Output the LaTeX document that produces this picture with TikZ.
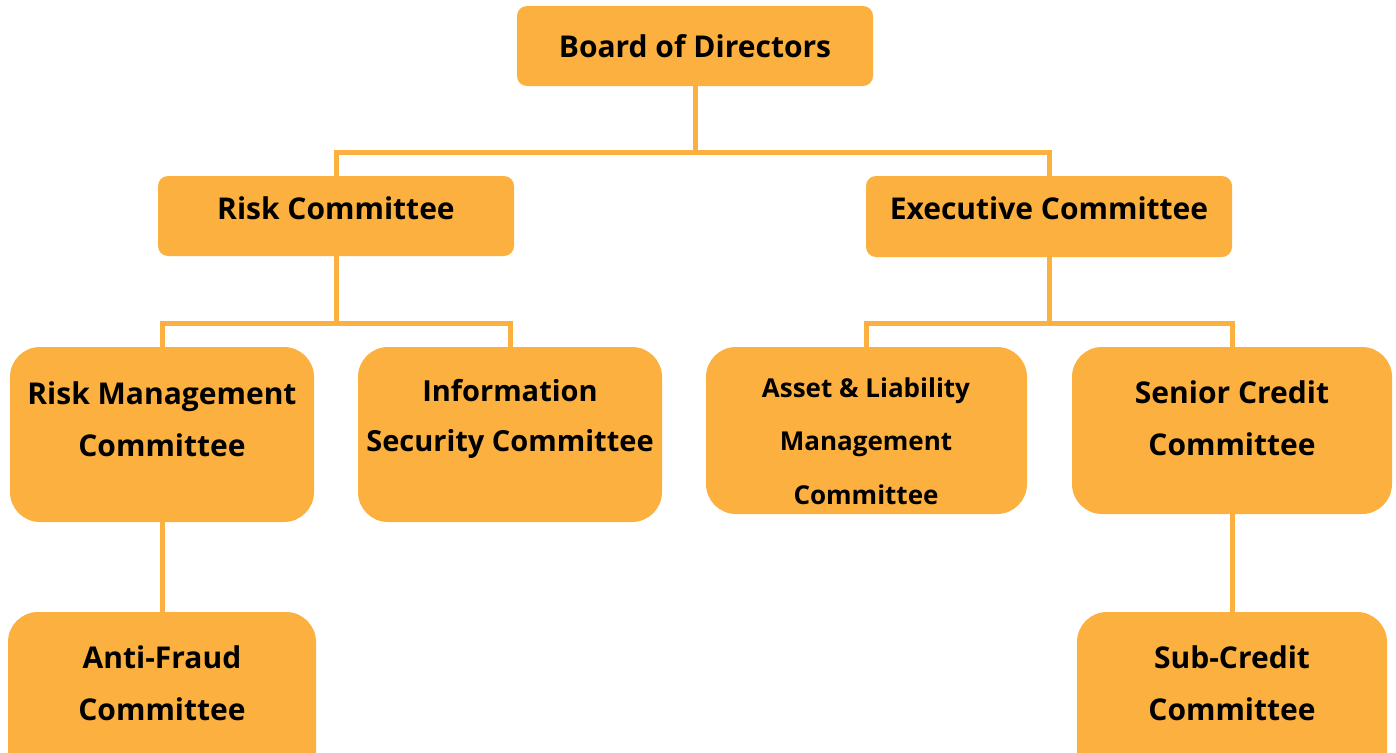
\documentclass[tikz,border=0pt]{standalone}
\usepackage{fontspec}
\setmainfont{Open Sans}
\definecolor{org}{HTML}{FBB040}
\begin{document}
\begin{tikzpicture}[x=1pt,y=-1pt,
  box/.style={fill=org, draw=none, rounded corners=#1, inner sep=0pt},
  box/.default=10pt,
  lbl/.style={align=center, inner sep=0pt, font=\fontsize{30}{52}\selectfont\bfseries},
  lblmid/.style={align=center, inner sep=0pt, font=\fontsize{29}{50}\selectfont\bfseries},
  lblsmall/.style={align=center, inner sep=0pt, font=\fontsize{26}{53.5}\selectfont\bfseries},
  conn/.style={draw=org, line width=5pt}]
\clip (0,0) rectangle (1396,752);
\fill[white] (0,0) rectangle (1396,752);
% boxes
\node[box, minimum width=356pt, minimum height=80pt] (bod) at (695,46) {};
\node[box, minimum width=356pt, minimum height=80pt] (rc) at (336,216) {};
\node[box, minimum width=366pt, minimum height=81pt] (ec) at (1049,216.5) {};
\node[box=30pt, minimum width=304pt, minimum height=175pt] (rm) at (162,434.5) {};
\node[box=30pt, minimum width=304pt, minimum height=175pt] (is) at (510,434.5) {};
\node[box=30pt, minimum width=321pt, minimum height=167pt] (al) at (866.5,430.5) {};
\node[box=30pt, minimum width=320pt, minimum height=167pt] (sc) at (1232,430.5) {};
\node[box=30pt, minimum width=308pt, minimum height=180pt] (af) at (162,702) {};
\node[box=30pt, minimum width=310pt, minimum height=180pt] (sub) at (1232,702) {};
% connectors
\draw[conn] (bod.south) -- ++(0,66) -| (rc.north);
\draw[conn] (bod.south) -- ++(0,66) -| (ec.north);
\draw[conn] (rc.south) -- ++(0,67) -| (rm.north);
\draw[conn] (rc.south) -- ++(0,67) -| (is.north);
\draw[conn] (ec.south) -- ++(0,66) -| (al.north);
\draw[conn] (ec.south) -- ++(0,66) -| (sc.north);
\draw[conn] (rm.south) -- (af.north);
\draw[conn] (sc.south) -- (sub.north);
% labels
\node[lbl] (bodt) at (695,46) {Board of Directors};
\node[lbl] (rct) at (336,208) {Risk Committee};
\node[lbl] (ect) at (1049,208) {Executive Committee};
\node[lbl] (rmt) at (162,419) {Risk Management\\Committee};
\node[lblmid] (ist) at (510,419) {Information\\Security Committee};
\node[lblsmall] (alt) at (866,441) {Asset \& Liability\\Management\\Committee};
\node[lbl] (sct) at (1232,418) {Senior Credit\\Committee};
\node[lbl] (aft) at (162,683) {Anti-Fraud\\Committee};
\node[lbl] (subt) at (1232,683) {Sub-Credit\\Committee};
\end{tikzpicture}
\end{document}
